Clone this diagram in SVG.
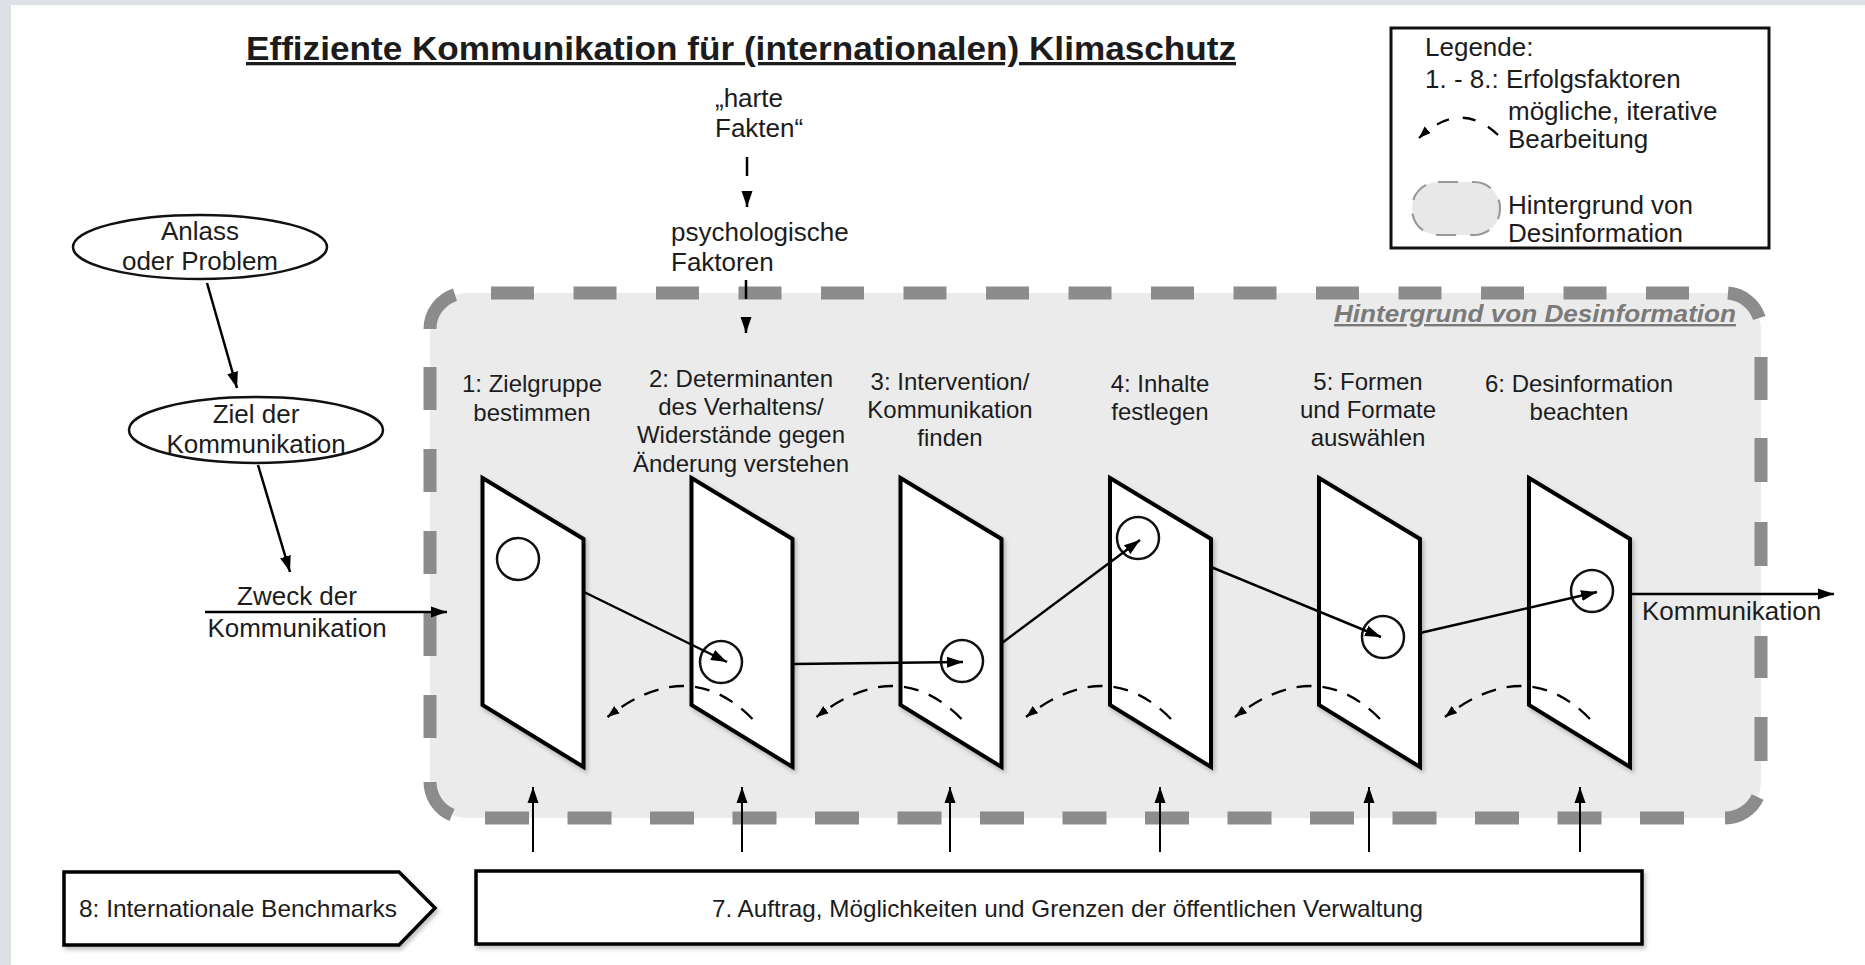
<svg xmlns="http://www.w3.org/2000/svg" width="1865" height="965" viewBox="0 0 1865 965">
<style>
.t{font-family:"Liberation Sans",Arial,Helvetica,sans-serif;fill:#1c1c1c}
.s26{font-size:26px}
.s24{font-size:24px}
.m{text-anchor:middle}
.panel{fill:#fff;stroke:#000;stroke-width:4;stroke-linejoin:miter}
.dot{fill:none;stroke:#111;stroke-width:2.5}
.arr{stroke:#000;stroke-width:2.5;fill:none;marker-end:url(#ah)}
.up{stroke:#000;stroke-width:2;fill:none;marker-end:url(#ah)}
.iter{stroke:#000;stroke-width:2.3;fill:none;stroke-dasharray:15 11;marker-end:url(#ahs)}
.bd{stroke:#8c8c8c;stroke-width:13;fill:none}
.ell{fill:#fff;stroke:#111;stroke-width:2.5}
.box{fill:#fff;stroke:#000;stroke-width:3.5}
</style>
<defs>
<marker id="ah" markerUnits="userSpaceOnUse" markerWidth="18" markerHeight="14" refX="16" refY="7" orient="auto"><path d="M0,1.5 L16,7 L0,12.5 z" fill="#000"/></marker>
<marker id="ahs" markerUnits="userSpaceOnUse" markerWidth="14" markerHeight="12" refX="12" refY="5" orient="auto"><path d="M0,0.5 L12,5 L0,9.5 z" fill="#000"/></marker>
<filter id="sh" x="-10%" y="-10%" width="130%" height="130%"><feDropShadow dx="2" dy="3" stdDeviation="2" flood-color="#000" flood-opacity="0.25"/></filter>
</defs>
<rect x="0" y="0" width="1865" height="965" fill="#fff"/>
<rect x="0" y="0" width="11" height="965" fill="#dde1e5"/>
<rect x="0" y="0" width="1865" height="5" fill="#dde1e5"/>

<text class="t" x="246" y="60" font-size="33" font-weight="bold" text-decoration="underline" textLength="990" lengthAdjust="spacingAndGlyphs">Effiziente Kommunikation für (internationalen) Klimaschutz</text>

<g id="background">
<rect x="430" y="293" width="1331" height="525" rx="36" fill="#ebebeb"/>
<path class="bd" d="M491,293 H1690" stroke-dasharray="43 39.5"/>
<path class="bd" d="M485,818 H1684" stroke-dasharray="44 38.5"/>
<path class="bd" d="M430,367 V741" stroke-dasharray="43 39"/>
<path class="bd" d="M1761,357 V400 M1761,438 V482 M1761,522 V566 M1761,636 V678 M1761,717 V761"/>
<path class="bd" d="M430,329 A36,36 0 0 1 455,294.7"/>
<path class="bd" d="M1728,293.1 A36,36 0 0 1 1759.3,318"/>
<path class="bd" d="M1757.7,797 A36,36 0 0 1 1725,818"/>
<path class="bd" d="M430,782 A36,36 0 0 0 452,815"/>
<text class="t" x="1334" y="322" font-size="24" font-weight="bold" font-style="italic" style="fill:#7a7a7a" text-decoration="underline" textLength="402" lengthAdjust="spacingAndGlyphs">Hintergrund von Desinformation</text>
</g>

<g id="harte-fakten">
<text class="t s26" x="715" y="107">„harte</text>
<text class="t s26" x="715" y="137">Fakten“</text>
</g>
<g id="psych">
<text class="t s26" x="671" y="241">psychologische</text>
<text class="t s26" x="671" y="271">Faktoren</text>
</g>

<g id="anlass">
<ellipse class="ell" cx="200" cy="247" rx="127" ry="32"/>
<text class="t s26 m" x="200" y="240">Anlass</text>
<text class="t s26 m" x="200" y="270">oder Problem</text>
</g>
<g id="ziel">
<ellipse class="ell" cx="256" cy="430" rx="127" ry="33"/>
<text class="t s26 m" x="256" y="423">Ziel der</text>
<text class="t s26 m" x="256" y="453">Kommunikation</text>
</g>
<g id="zweck">
<text class="t s26 m" x="297" y="605">Zweck der</text>
<text class="t s26 m" x="297" y="637">Kommunikation</text>
</g>

<g id="step1">
<text class="t s24 m" x="532" y="392">1: Zielgruppe</text>
<text class="t s24 m" x="532" y="421">bestimmen</text>
<polygon class="panel" filter="url(#sh)" points="482.5,478 583.5,539 583.5,767 482.5,705"/>
<circle class="dot" cx="518" cy="559" r="21"/>
</g>
<g id="step2">
<text class="t s24 m" x="741" y="387">2: Determinanten</text>
<text class="t s24 m" x="741" y="415">des Verhaltens/</text>
<text class="t s24 m" x="741" y="443">Widerstände gegen</text>
<text class="t s24 m" x="741" y="472">Änderung verstehen</text>
<polygon class="panel" filter="url(#sh)" points="691.5,478 792.5,539 792.5,767 691.5,705"/>
<circle class="dot" cx="721" cy="662" r="21"/>
</g>
<g id="step3">
<text class="t s24 m" x="950" y="390">3: Intervention/</text>
<text class="t s24 m" x="950" y="418">Kommunikation</text>
<text class="t s24 m" x="950" y="446">finden</text>
<polygon class="panel" filter="url(#sh)" points="900.5,478 1001.5,539 1001.5,767 900.5,705"/>
<circle class="dot" cx="962" cy="661" r="21"/>
</g>
<g id="step4">
<text class="t s24 m" x="1160" y="392">4: Inhalte</text>
<text class="t s24 m" x="1160" y="420">festlegen</text>
<polygon class="panel" filter="url(#sh)" points="1110,478 1211,539 1211,767 1110,705"/>
<circle class="dot" cx="1138" cy="538" r="21"/>
</g>
<g id="step5">
<text class="t s24 m" x="1368" y="390">5: Formen</text>
<text class="t s24 m" x="1368" y="418">und Formate</text>
<text class="t s24 m" x="1368" y="446">auswählen</text>
<polygon class="panel" filter="url(#sh)" points="1319,478 1420,539 1420,767 1319,705"/>
<circle class="dot" cx="1383" cy="637" r="21"/>
</g>
<g id="step6">
<text class="t s24 m" x="1579" y="392">6: Desinformation</text>
<text class="t s24 m" x="1579" y="420">beachten</text>
<polygon class="panel" filter="url(#sh)" points="1529,478 1630,539 1630,767 1529,705"/>
<circle class="dot" cx="1592" cy="591" r="21"/>
</g>
<g id="kommunikation-out">
<text class="t s26" x="1642" y="620">Kommunikation</text>
</g>

<g id="benchmarks">
<polygon class="box" filter="url(#sh)" points="64,872 399,872 435,908 399,945 64,945"/>
<text class="t" x="79" y="917" font-size="24" textLength="318" lengthAdjust="spacingAndGlyphs">8: Internationale Benchmarks</text>
</g>
<g id="auftrag">
<rect class="box" filter="url(#sh)" x="476" y="871" width="1166" height="73"/>
<text class="t" x="712" y="917" font-size="24" textLength="711" lengthAdjust="spacingAndGlyphs">7. Auftrag, Möglichkeiten und Grenzen der öffentlichen Verwaltung</text>
</g>

<g id="legend">
<rect x="1391" y="28" width="378" height="220" fill="#fff" stroke="#111" stroke-width="3"/>
<text class="t s26" x="1425" y="56">Legende:</text>
<text class="t s26" x="1425" y="88">1. - 8.: Erfolgsfaktoren</text>
<text class="t s26" x="1508" y="120">mögliche, iterative</text>
<text class="t s26" x="1508" y="148">Bearbeitung</text>
<path d="M1498,135 Q1460,99 1419,138" stroke="#000" stroke-width="2.3" fill="none" stroke-dasharray="13 14" marker-end="url(#ahs)"/>
<rect x="1412" y="182" width="88" height="53" rx="26" fill="#e8e8e8" stroke="#999" stroke-width="2.2" stroke-dasharray="20 14"/>
<text class="t s26" x="1508" y="214">Hintergrund von</text>
<text class="t s26" x="1508" y="242">Desinformation</text>
</g>

<g id="connectors">
<path d="M747,157 V207" stroke="#000" stroke-width="2.5" fill="none" stroke-dasharray="19 16" marker-end="url(#ah)"/>
<path d="M746,280 V333" stroke="#000" stroke-width="2.5" fill="none" stroke-dasharray="19 18" marker-end="url(#ah)"/>
<path class="arr" d="M207,283 L237,388"/>
<path class="arr" d="M258,465 L290,572"/>
<path class="arr" d="M205,612 L447,612"/>
<path class="arr" d="M584,592 L727,662"/>
<path class="arr" d="M793,664 L963,662"/>
<path class="arr" d="M1002,643 L1140,540"/>
<path class="arr" d="M1211,567 L1381,637"/>
<path class="arr" d="M1420,633 L1597,592"/>
<path class="arr" d="M1632,594 L1834,594"/>
<path class="iter" d="M752.5,719 Q688.5,654 607.5,717"/>
<path class="iter" d="M961.5,719 Q897.5,654 816.5,717"/>
<path class="iter" d="M1171,719 Q1107,654 1026,717"/>
<path class="iter" d="M1380,719 Q1316,654 1235,717"/>
<path class="iter" d="M1590,719 Q1526,654 1445,717"/>
<path class="up" d="M533,852 V787"/>
<path class="up" d="M742,852 V787"/>
<path class="up" d="M950,852 V787"/>
<path class="up" d="M1160,852 V787"/>
<path class="up" d="M1369,852 V787"/>
<path class="up" d="M1580,852 V787"/>
</g>
</svg>
